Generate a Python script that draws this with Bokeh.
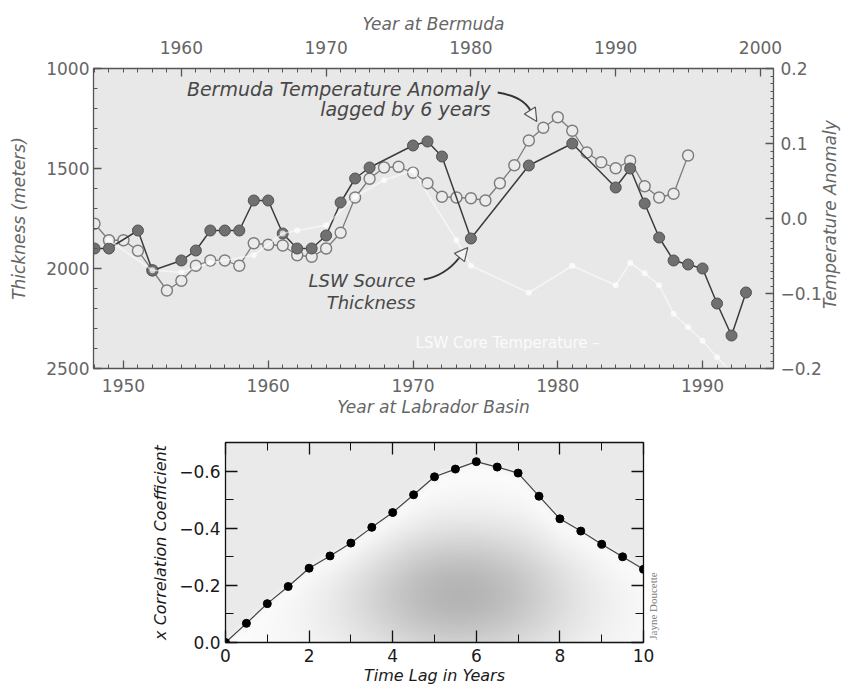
import numpy as np
from bokeh.plotting import figure
from bokeh.models import (Range1d, LinearAxis, FixedTicker, CustomJSTickFormatter,
                          Label, Arrow, NormalHead)
from bokeh.embed import file_html
from bokeh.resources import INLINE

# ---------------- data ----------------
# LSW source thickness (m) by year at Labrador Basin
lsw_years = [1948, 1949, 1951, 1952, 1954, 1955, 1956, 1957, 1958, 1959, 1960, 1961,
             1962, 1963, 1964, 1965, 1966, 1967, 1970, 1971, 1972, 1974, 1978, 1981,
             1984, 1985, 1986, 1987, 1988, 1989, 1990, 1991, 1992, 1993]
lsw_thickness = [1900, 1900, 1810, 2010, 1960, 1910, 1810, 1810, 1810, 1660, 1660, 1825,
                 1900, 1900, 1835, 1670, 1550, 1495, 1385, 1365, 1440, 1850, 1485, 1375,
                 1595, 1500, 1675, 1845, 1960, 1980, 2000, 2175, 2335, 2120]

# Bermuda temperature anomaly by year at Bermuda (plotted on the Bermuda axis, i.e. lagged 6 yr)
bermuda_years = [1954, 1955, 1956, 1957, 1958, 1959, 1960, 1961, 1962, 1963, 1964, 1965,
                 1966, 1967, 1968, 1969, 1970, 1971, 1972, 1973, 1974, 1975, 1976, 1977,
                 1978, 1979, 1980, 1981, 1982, 1983, 1984, 1985, 1986, 1987, 1988, 1989,
                 1990, 1991, 1992, 1993, 1994, 1995]
bermuda_anom = [-0.007, -0.029, -0.029, -0.043, -0.069, -0.096, -0.083, -0.063, -0.056, -0.056,
                -0.063, -0.033, -0.035, -0.036, -0.049, -0.051, -0.040, -0.019, 0.028, 0.053,
                0.068, 0.069, 0.061, 0.047, 0.029, 0.028, 0.027, 0.024, 0.047, 0.071,
                0.104, 0.121, 0.135, 0.117, 0.088, 0.075, 0.067, 0.077, 0.043, 0.028,
                0.033, 0.084]

# LSW core temperature (faint white trace), year at Labrador Basin
core_years = [1949, 1952, 1954, 1956, 1959, 1961, 1962, 1964, 1966, 1968, 1970, 1973,
              1974, 1978, 1981, 1984, 1985, 1986, 1987, 1988, 1989, 1990, 1991, 1992]
core_temp = [-0.029, -0.069, -0.072, -0.059, -0.049, -0.020, -0.016, -0.009, 0.029, 0.051,
             0.064, -0.029, -0.063, -0.099, -0.063, -0.089, -0.059, -0.073, -0.089, -0.127,
             -0.145, -0.163, -0.185, -0.205]

# cross correlation vs time lag
lags = [0.0, 0.5, 1.0, 1.5, 2.0, 2.5, 3.0, 3.5, 4.0, 4.5, 5.0, 5.5, 6.0, 6.5, 7.0,
        7.5, 8.0, 8.5, 9.0, 9.5, 10.0]
xcorr = [0.0, -0.067, -0.136, -0.196, -0.260, -0.303, -0.348, -0.403, -0.455, -0.517,
         -0.580, -0.607, -0.633, -0.614, -0.593, -0.512, -0.433, -0.390, -0.344, -0.300,
         -0.256]

# tick definitions
lab_major = [1950, 1960, 1970, 1980, 1990]
berm_major = [1960, 1970, 1980, 1990, 2000]
thick_major = [1000, 1500, 2000, 2500]
temp_major = [-0.2, -0.1, 0.0, 0.1, 0.2]
lag_major = [0, 2, 4, 6, 8, 10]
corr_major = [0.0, -0.2, -0.4, -0.6]

FONT = "DejaVu Sans"
GREY = "#666666"
AX = "#555555"
NB = "\u00a0"

minus_fmt = CustomJSTickFormatter(code="return (tick < -1e-9 ? '\u2212' : '') + Math.abs(tick).toFixed(1);")


def style_axis(ax, color, lsize, asize, ls_off, as_off, tin=8, mtin=4):
    ax.axis_line_color = AX
    ax.axis_line_width = 1.3
    ax.major_tick_in = tin
    ax.major_tick_out = 0
    ax.minor_tick_in = mtin
    ax.minor_tick_out = 0
    ax.major_tick_line_color = AX
    ax.minor_tick_line_color = AX
    ax.major_tick_line_width = 1.3
    ax.major_label_text_font = FONT
    ax.major_label_text_font_size = lsize
    ax.major_label_text_color = color
    ax.major_label_standoff = ls_off
    ax.axis_label_text_font = FONT
    ax.axis_label_text_font_style = "italic"
    ax.axis_label_text_font_size = asize
    ax.axis_label_text_color = color
    ax.axis_label_standoff = as_off


def upright(ax, text, pad, align):
    # label on a right-hand axis that reads bottom-to-top, like the left one
    props = ax.properties()
    if "axis_label_orientation" in props and "axis_label_align" in props:
        ax.axis_label_orientation = float(np.pi / 2)
        ax.axis_label_align = align
        ax.axis_label = NB * pad + text
    else:
        ax.axis_label = text


# ---------------- top chart ----------------
p = figure(frame_width=680, frame_height=300,
           x_range=Range1d(1947.93, 1994.9), y_range=Range1d(2500, 1000),
           output_backend="svg", toolbar_location=None,
           min_border_left=93, min_border_right=10, min_border_top=68, min_border_bottom=52,
           background_fill_color="#e8e8e8", border_fill_color="white",
           outline_line_color=AX)
p.grid.visible = False
p.extra_x_ranges = {"bermuda": Range1d(1953.93, 2000.9)}
p.extra_y_ranges = {"temp": Range1d(-0.2, 0.2)}

xb = p.xaxis[0]
xb.ticker = FixedTicker(ticks=lab_major, minor_ticks=list(range(1948, 1995)))
xb.axis_label = "Year at Labrador Basin"
style_axis(xb, GREY, "17px", "17px", 10, 2)

yl = p.yaxis[0]
yl.ticker = FixedTicker(ticks=thick_major, minor_ticks=list(range(1000, 2501, 100)))
yl.axis_label = "Thickness (meters)"
style_axis(yl, GREY, "17px", "17px", 4, 14)

xt = LinearAxis(x_range_name="bermuda", axis_label="Year at Bermuda",
                ticker=FixedTicker(ticks=berm_major, minor_ticks=list(range(1954, 2001))))
style_axis(xt, GREY, "17px", "17px", 15, 4)
p.add_layout(xt, "above")

yr = LinearAxis(y_range_name="temp",
                ticker=FixedTicker(ticks=temp_major,
                                   minor_ticks=[round(-0.2 + 0.01 * i, 2) for i in range(41)]),
                formatter=minus_fmt)
style_axis(yr, GREY, "17px", "17px", 7, 5, tin=8, mtin=3)
upright(yr, "Temperature Anomaly", 11, "start")
p.add_layout(yr, "right")

# Bermuda anomaly (open circles), on the Bermuda year axis
p.line(bermuda_years, bermuda_anom, x_range_name="bermuda", y_range_name="temp",
       line_color="#7c7c7c", line_width=1.3)
p.scatter(bermuda_years, bermuda_anom, x_range_name="bermuda", y_range_name="temp",
          size=11, fill_color="#ebebeb", line_color="#7c7c7c", line_width=1.4)

# LSW source thickness (filled circles)
p.line(lsw_years, lsw_thickness, line_color="#3c3c3c", line_width=1.5)
p.scatter(lsw_years, lsw_thickness, size=11, fill_color="#707070", line_color="#505050",
          line_width=1)

# LSW core temperature (faint white)
p.line(core_years, core_temp, y_range_name="temp", line_color="white", line_width=1.6,
       line_alpha=0.55)
p.scatter(core_years, core_temp, y_range_name="temp", size=6, fill_color="white",
          line_color=None, fill_alpha=0.7)

TXT = "#474747"
for txt, yy in (("Bermuda Temperature Anomaly", 1100), ("lagged by 6 years", 1200)):
    p.add_layout(Label(x=1975.37, y=yy, text=txt, text_align="right", text_baseline="middle",
                       text_font=FONT, text_font_style="italic", text_font_size="19px",
                       text_color=TXT))
for txt, yy in (("LSW Source", 2060), ("Thickness", 2170)):
    p.add_layout(Label(x=1970.18, y=yy, text=txt, text_align="right", text_baseline="middle",
                       text_font=FONT, text_font_style="italic", text_font_size="18px",
                       text_color=TXT))
p.add_layout(Label(x=1970.18, y=2370, text="LSW Core Temperature \u2013", text_align="left",
                   text_baseline="middle", text_font=FONT, text_font_size="15px",
                   text_color="white", text_alpha=0.85))

# curved arrows
p.bezier(x0=[1975.85, 1970.74], y0=[1120, 2055], x1=[1978.2, 1973.15], y1=[1225, 1950],
         cx0=[1977.09, 1971.91], cy0=[1135, 2040], cx1=[1977.92, 1972.6], cy1=[1170, 2000],
         line_color="#333333", line_width=2)
for xs_, ys_, xe_, ye_ in ((1978.2, 1225, 1978.55, 1265), (1973.15, 1950, 1973.78, 1895)):
    p.add_layout(Arrow(x_start=xs_, y_start=ys_, x_end=xe_, y_end=ye_, line_color="#333333",
                       line_width=1.5,
                       end=NormalHead(size=13, fill_color="#f2f2f2", line_color="#555555",
                                      line_width=1.2)))

# ---------------- bottom chart ----------------
q = figure(frame_width=418, frame_height=200, x_range=Range1d(0, 10), y_range=Range1d(0, -0.7),
           output_backend="svg", toolbar_location=None,
           min_border_left=225, min_border_right=30, min_border_top=22, min_border_bottom=20,
           background_fill_color="#e9e9e9", border_fill_color="white",
           outline_line_color="#111111")
q.grid.visible = False

# shaded background (decoration)
nx, ny = 260, 140
gx = np.linspace(0, 10, nx)
gy = np.linspace(-0.7, 0, ny)
GX, GY = np.meshgrid(gx, gy)
cur = np.interp(gx, lags, xcorr)
d = GY - cur[None, :]            # positive = below the curve (towards 0)
below = 1.0 / (1.0 + np.exp(-d / 0.008))
mag = -GY
blob = np.exp(-((GX - 5.6) / 2.8) ** 2 - ((mag - 0.17) / 0.24) ** 2)
depth = 1 - np.exp(-np.clip(d, 0, None) / 0.09)
v = 234 * (1 - below) + (252 - 72 * blob * depth) * below
img = np.empty((ny, nx), dtype=np.uint32)
view = img.view(dtype=np.uint8).reshape((ny, nx, 4))
view[:, :, 0] = v
view[:, :, 1] = v
view[:, :, 2] = v
view[:, :, 3] = 255
q.image_rgba(image=[img], x=0, y=-0.7, dw=10, dh=0.7)

q.line(lags, xcorr, line_color="#444444", line_width=1.2)
q.scatter(lags, xcorr, size=8, fill_color="black", line_color="black")

BLK = "#1a1a1a"
qx = q.xaxis[0]
qx.ticker = FixedTicker(ticks=lag_major, minor_ticks=[1, 3, 5, 7, 9])
qx.axis_label = "Time Lag in Years"
style_axis(qx, BLK, "17px", "16px", 6, 1, tin=12, mtin=8)
qy = q.yaxis[0]
qy.ticker = FixedTicker(ticks=corr_major, minor_ticks=[-0.1, -0.3, -0.5])
qy.formatter = minus_fmt
qy.axis_label = "x Correlation Coefficient"
style_axis(qy, BLK, "17px", "16px", 5, 6, tin=12, mtin=8)
for ax in (qx, qy):
    ax.axis_line_color = "#111111"
    ax.major_tick_line_color = "#111111"
    ax.minor_tick_line_color = "#111111"

qt = LinearAxis(ticker=FixedTicker(ticks=lag_major, minor_ticks=[1, 3, 5, 7, 9]))
style_axis(qt, BLK, "0px", "0px", 0, 0, tin=12, mtin=8)
qt.major_label_text_alpha = 0
q.add_layout(qt, "above")

qr = LinearAxis(ticker=FixedTicker(ticks=corr_major, minor_ticks=[-0.1, -0.3, -0.5]))
style_axis(qr, BLK, "0px", "11px", 0, 9, tin=12, mtin=8)
qr.major_label_text_alpha = 0
qr.axis_label_text_font = "Liberation Serif"
qr.axis_label_text_font_style = "normal"
qr.axis_label_text_color = "#808080"
upright(qr, "Jayne Doucette", 1, "end")
q.add_layout(qr, "right")
for ax in (qt, qr):
    ax.axis_line_color = "#111111"
    ax.major_tick_line_color = "#111111"
    ax.minor_tick_line_color = "#111111"

open("out.html", "w").write(file_html([p, q], INLINE))
